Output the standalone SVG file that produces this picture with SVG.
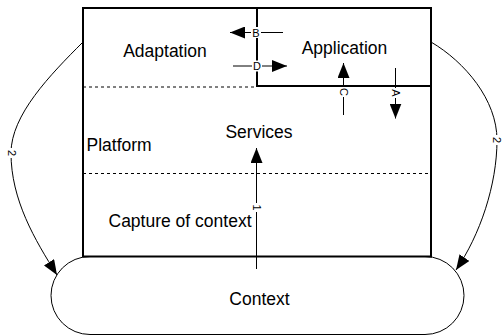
<svg xmlns="http://www.w3.org/2000/svg" width="504" height="336" viewBox="0 0 504 336">
  <defs>
    <marker id="ah" markerUnits="userSpaceOnUse" markerWidth="16" markerHeight="12" refX="15" refY="6" orient="auto">
      <path d="M0,0 L15,6 L0,12 z" fill="#000"/>
    </marker>
    <style>
      .big{font-family:"Liberation Sans",Arial,sans-serif;font-size:17.5px;fill:#000}
      .lbl{font-family:"Liberation Sans",Arial,sans-serif;font-size:11px;fill:#000;text-anchor:middle}
      .thick{fill:none;stroke:#000;stroke-width:2}
      .dot{fill:none;stroke:#000;stroke-width:1;stroke-dasharray:3,3}
      .conn{fill:none;stroke:#000;stroke-width:1;marker-end:url(#ah)}
      .bg{fill:#fff}
    </style>
  </defs>
  <rect width="504" height="336" fill="#fff"/>

  <g id="context">
    <rect x="51" y="256.5" width="413" height="78" rx="39" ry="39" fill="#fff" stroke="#000" stroke-width="1"/>
    <text class="big" x="259.5" y="305" text-anchor="middle">Context</text>
  </g>

  <g id="platform">
    <rect class="thick" x="83" y="8" width="348" height="248.5"/>
    <line class="dot" x1="83" y1="87" x2="257" y2="87"/>
    <line class="dot" x1="83" y1="173.5" x2="431" y2="173.5"/>
    <text class="big" x="86.5" y="150.5">Platform</text>
  </g>

  <g id="adaptation">
    <text class="big" x="165" y="57" text-anchor="middle">Adaptation</text>
  </g>

  <g id="application">
    <path class="thick" d="M257,8 V86 H431"/>
    <text class="big" x="344.5" y="53.5" text-anchor="middle">Application</text>
  </g>

  <g id="services">
    <text class="big" x="259" y="137.5" text-anchor="middle">Services</text>
  </g>

  <g id="capture">
    <text class="big" x="108.5" y="226.5">Capture of context</text>
  </g>

  <g id="connectors">
    <!-- 1 -->
    <line class="conn" x1="256.5" y1="269" x2="256.5" y2="148"/>
    <rect class="bg" x="252" y="203" width="10" height="9"/>
    <text class="lbl" transform="translate(257,207.5) rotate(90)" y="4">1</text>
    <!-- B -->
    <line class="conn" x1="283" y1="32.5" x2="230" y2="32.5"/>
    <rect class="bg" x="251" y="27" width="10" height="11"/>
    <text class="lbl" x="256" y="36.5">B</text>
    <!-- D -->
    <line class="conn" x1="233" y1="66" x2="287" y2="66"/>
    <rect class="bg" x="252" y="60.5" width="10" height="11"/>
    <text class="lbl" x="257" y="70">D</text>
    <!-- C -->
    <line class="conn" x1="343.5" y1="115" x2="343.5" y2="63"/>
    <rect class="bg" x="338" y="87" width="11" height="10"/>
    <text class="lbl" transform="translate(343.5,92) rotate(90)" y="4">C</text>
    <!-- A -->
    <line class="conn" x1="395.5" y1="68" x2="395.5" y2="118.5"/>
    <rect class="bg" x="390" y="88" width="11" height="10"/>
    <text class="lbl" transform="translate(395.5,93) rotate(90)" y="4">A</text>
    <!-- 2 left -->
    <path class="conn" d="M83,42 C50,75 11,115 11,153 C11,200 35,240 57,275"/>
    <rect class="bg" x="6" y="148" width="11" height="10"/>
    <text class="lbl" transform="translate(11.5,153) rotate(90)" y="4">2</text>
    <!-- 2 right -->
    <path class="conn" d="M431,42 C465,62 497,100 497,140 C497,185 480,235 456,270"/>
    <rect class="bg" x="491.5" y="135" width="11" height="10"/>
    <text class="lbl" transform="translate(497,140) rotate(90)" y="4">2</text>
  </g>
</svg>
